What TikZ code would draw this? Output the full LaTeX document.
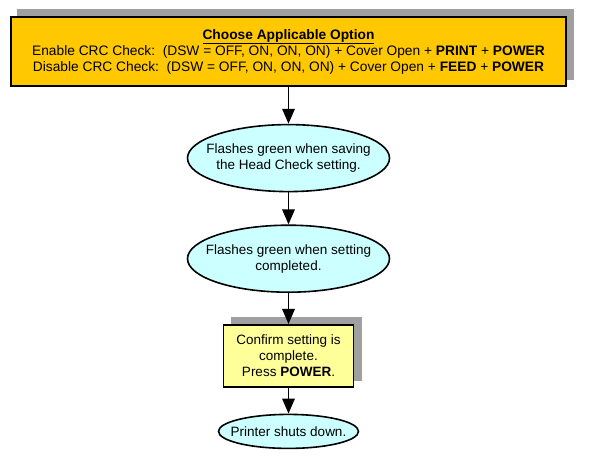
\documentclass[tikz,border=0pt]{standalone}
\usepackage{fontspec}
\setmainfont{Liberation Sans}
\usepackage{tikz}
\usetikzlibrary{shapes,arrows.meta,positioning,backgrounds}
\definecolor{optfill}{HTML}{FFC800}
\definecolor{statefill}{HTML}{CCFFFF}
\definecolor{actfill}{HTML}{FFFF99}
\definecolor{shadowgray}{HTML}{A0A0A0}
\tikzstyle{option} = [draw,line width=1.6pt,rectangle,fill=optfill,minimum width=555pt,minimum height=69pt,align=center,inner sep=0,font=\fontsize{13.75}{16}\selectfont]
\tikzstyle{state} = [draw,line width=1.6pt,ellipse,fill=statefill,minimum width=202pt,minimum height=67pt,align=center,inner xsep=-14pt,inner ysep=0]
\tikzstyle{action} = [draw,line width=1.6pt,rectangle,fill=actfill,minimum width=130pt,minimum height=62pt,align=center,inner sep=0]
\tikzstyle{flow} = [-{Triangle[length=15pt,width=12.5pt]},line width=1.8pt]
\tikzstyle{boxshadow} = [fill=shadowgray]
\def \fs {\fontsize{13.5}{16}\selectfont}

\begin{document}
\begin{tikzpicture}[x=1pt,y=1pt,font=\fs]
      \useasboundingbox (0,0) rectangle (595,466);
      \node[option] (opt) at (288.5,414.5) {\underline{\textbf{Choose Applicable Option}}\\
        Enable CRC Check:\ \ (DSW = OFF, ON, ON, ON) + Cover Open + \textbf{PRINT} + \textbf{POWER}\\
        Disable CRC Check:\ \ (DSW = OFF, ON, ON, ON) + Cover Open + \textbf{FEED} + \textbf{POWER}};
      \node[state,below=37pt of opt] (save) {Flashes green when saving\\ the Head Check setting.};
      \node[state,below=32pt of save] (done) {Flashes green when setting\\ completed.};
      \node[action,below=31pt of done] (confirm) {Confirm setting is\\ complete.\\ Press \textbf{POWER}.};
      \node[state,below=26pt of confirm,minimum width=140pt,minimum height=34pt,inner xsep=-10pt] (off) {Printer shuts down.};
      % shadows behind the boxes
      \begin{scope}[on background layer]
        \fill[boxshadow] ([shift={(7,7)}]opt.south west) rectangle ([shift={(7,7)}]opt.north east);
        \fill[boxshadow] ([shift={(8,7)}]confirm.south west) rectangle ([shift={(8,7)}]confirm.north east);
      \end{scope}
      \draw[flow] (opt) -- (save);
      \draw[flow] (save) -- (done);
      \draw[flow] (done) -- (confirm);
      \draw[flow] (confirm) -- (off);
    \end{tikzpicture}
\end{document}
